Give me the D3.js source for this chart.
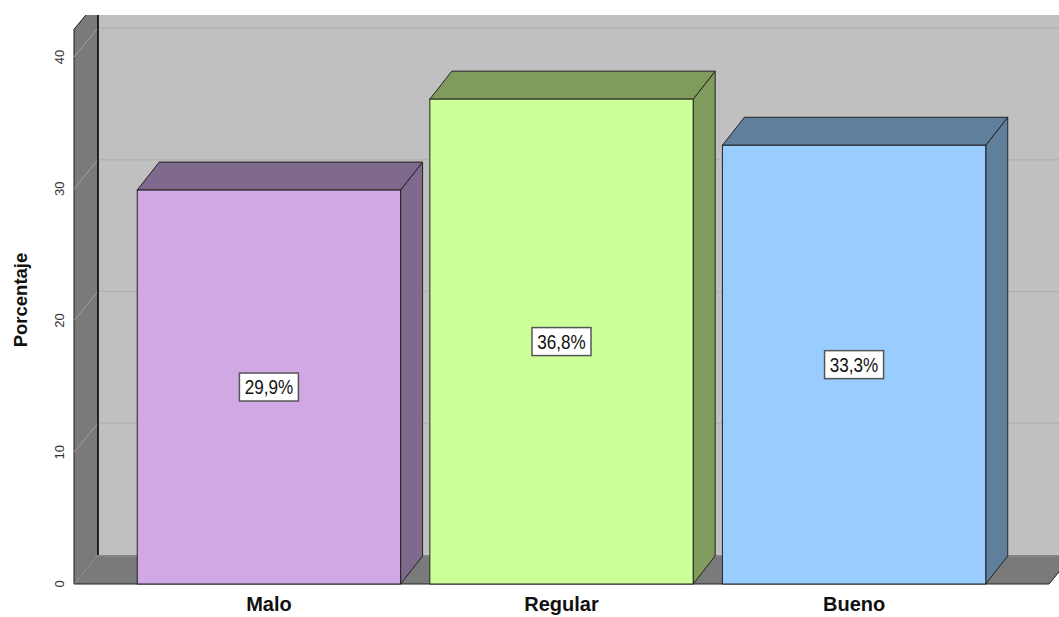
<!DOCTYPE html>
<html>
<head>
<meta charset="utf-8">
<script src="https://cdn.jsdelivr.net/npm/d3@7"></script>
<style>
  html, body { margin: 0; padding: 0; background: #fff; }
  svg { display: block; font-family: "Liberation Sans", Arial, sans-serif; }
</style>
</head>
<body>
<svg id="chart" width="1059" height="617"></svg>
<script>
// data
const categories = ['Malo', 'Regular', 'Bueno'];
const values = [29.9, 36.8, 33.3];
const valueLabels = ['29,9%', '36,8%', '33,3%'];
const yTicks = [0, 10, 20, 30, 40];
const frontColors = ['#D0A8E4', '#CCFF99', '#99CCFF'];
const sideColors = ['#7F6A8D', '#7F9C5C', '#5F7F9C'];

const width = 1059, height = 617;
const svg = d3.select('#chart');

// wall depth offset and bar depth offset
const wall = { dx: 24, dy: -29 };
const depth = { dx: 22, dy: -28 };
const plotTop = 15;
const axisMax = 42.1; // top of the walls

const y = d3.scaleLinear().domain([0, 40]).range([584, 57]);
const x = d3.scaleBand().domain(categories).range([108, 1015]).paddingInner(0.1).paddingOuter(0.1);
const xLeft = 74, xRight = 1049;

const defs = svg.append('defs');
defs.append('clipPath').attr('id', 'plot-clip')
  .append('rect').attr('x', 0).attr('y', plotTop).attr('width', width).attr('height', height - plotTop);

const g = svg.append('g').attr('clip-path', 'url(#plot-clip)');
const line = d3.line();

// back wall
g.append('rect')
  .attr('x', xLeft + wall.dx).attr('y', y(axisMax) + wall.dy)
  .attr('width', width).attr('height', y(0) - y(axisMax))
  .attr('fill', '#C0C0C0');

// back wall gridlines
g.selectAll('line.grid-back')
  .data(yTicks.slice(1))
  .join('line')
  .attr('class', 'grid-back')
  .attr('x1', xLeft + wall.dx).attr('x2', width + 30)
  .attr('y1', d => y(d) + wall.dy).attr('y2', d => y(d) + wall.dy)
  .attr('stroke', '#B2B2B2').attr('stroke-width', 1.5);

// side wall
g.append('path')
  .attr('d', line([
    [xLeft, y(0)], [xLeft + wall.dx, y(0) + wall.dy],
    [xLeft + wall.dx, y(axisMax) + wall.dy], [xLeft, y(axisMax)]
  ]) + 'Z')
  .attr('fill', '#7A7A7A')
  .attr('stroke', '#1a1a1a').attr('stroke-width', 1);

// floor
g.append('path')
  .attr('d', line([
    [xLeft, y(0)], [xRight, y(0)],
    [xRight + wall.dx, y(0) + wall.dy], [xLeft + wall.dx, y(0) + wall.dy]
  ]) + 'Z')
  .attr('fill', '#7A7A7A');

// floor/back wall seam
g.append('line')
  .attr('x1', xLeft + wall.dx).attr('x2', width + 30)
  .attr('y1', y(0) + wall.dy + 1).attr('y2', y(0) + wall.dy + 1)
  .attr('stroke', '#8E8E8E').attr('stroke-width', 1);

// side wall gridlines (slanted)
g.selectAll('line.grid-side')
  .data(yTicks)
  .join('line')
  .attr('class', 'grid-side')
  .attr('x1', xLeft).attr('y1', d => y(d))
  .attr('x2', xLeft + wall.dx).attr('y2', d => y(d) + wall.dy)
  .attr('stroke', '#A0A0A0').attr('stroke-width', 1);

// wall edges
g.append('line')
  .attr('x1', xLeft + wall.dx).attr('x2', xLeft + wall.dx)
  .attr('y1', y(axisMax) + wall.dy).attr('y2', y(0) + wall.dy)
  .attr('stroke', '#111').attr('stroke-width', 1.5);
g.append('line')
  .attr('x1', xLeft).attr('x2', xRight)
  .attr('y1', y(0)).attr('y2', y(0))
  .attr('stroke', '#222').attr('stroke-width', 1);
g.append('line')
  .attr('x1', xRight).attr('x2', xRight + wall.dx)
  .attr('y1', y(0)).attr('y2', y(0) + wall.dy)
  .attr('stroke', '#222').attr('stroke-width', 1);

// bars
const bars = g.selectAll('g.bar')
  .data(categories.map((c, i) => ({ cat: c, value: values[i], label: valueLabels[i], i })))
  .join('g')
  .attr('class', 'bar');

bars.append('path') // side
  .attr('d', d => {
    const x1 = x(d.cat) + x.bandwidth();
    return line([[x1, y(0)], [x1 + depth.dx, y(0) + depth.dy],
      [x1 + depth.dx, y(d.value) + depth.dy], [x1, y(d.value)]]) + 'Z';
  })
  .attr('fill', d => sideColors[d.i])
  .attr('stroke', '#222').attr('stroke-width', 1).attr('stroke-linejoin', 'round');

bars.append('path') // top
  .attr('d', d => {
    const x0 = x(d.cat), x1 = x0 + x.bandwidth(), yt = y(d.value);
    return line([[x0, yt], [x1, yt], [x1 + depth.dx, yt + depth.dy], [x0 + depth.dx, yt + depth.dy]]) + 'Z';
  })
  .attr('fill', d => sideColors[d.i])
  .attr('stroke', '#222').attr('stroke-width', 1).attr('stroke-linejoin', 'round');

bars.append('rect') // front
  .attr('x', d => x(d.cat))
  .attr('y', d => y(d.value))
  .attr('width', x.bandwidth())
  .attr('height', d => y(0) - y(d.value))
  .attr('fill', d => frontColors[d.i])
  .attr('stroke', '#222').attr('stroke-width', 1);

// value labels
const labelG = bars.append('g')
  .attr('transform', d => `translate(${x(d.cat) + x.bandwidth() / 2},${(y(0) + y(d.value)) / 2})`);
labelG.append('rect')
  .attr('x', -29.5).attr('y', -14).attr('width', 59).attr('height', 28)
  .attr('fill', '#fff').attr('stroke', '#555').attr('stroke-width', 1.5);
labelG.append('text')
  .attr('transform', 'scale(0.9,1.08)')
  .attr('text-anchor', 'middle').attr('dy', '0.36em')
  .attr('font-size', 19).attr('fill', '#111')
  .text(d => d.label);

// y tick labels
svg.selectAll('text.ytick')
  .data(yTicks)
  .join('text')
  .attr('class', 'ytick')
  .attr('transform', d => `translate(64,${y(d)}) rotate(-90)`)
  .attr('text-anchor', 'middle')
  .attr('font-size', 13).attr('fill', '#333')
  .text(d => d);

// y axis title
svg.append('text')
  .attr('transform', `translate(27,300) rotate(-90)`)
  .attr('text-anchor', 'middle')
  .attr('font-size', 18.5).attr('font-weight', 'bold').attr('fill', '#111')
  .text('Porcentaje');

// x category labels
svg.selectAll('text.xcat')
  .data(categories)
  .join('text')
  .attr('class', 'xcat')
  .attr('x', d => x(d) + x.bandwidth() / 2)
  .attr('y', 611)
  .attr('text-anchor', 'middle')
  .attr('font-size', 20).attr('font-weight', 'bold').attr('fill', '#111')
  .text(d => d);
</script>
</body>
</html>
